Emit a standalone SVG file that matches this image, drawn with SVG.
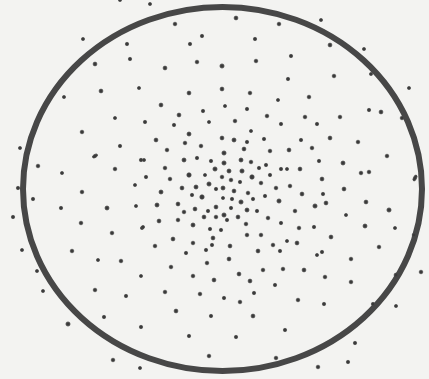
<svg xmlns="http://www.w3.org/2000/svg" width="429" height="379" viewBox="0 0 429 379">
<style>
.d{fill:#3a3a3a;stroke:#4a4a4a;stroke-width:0.7}
</style>
<rect width="429" height="379" fill="#f3f3f1"/>
<ellipse id="ring" cx="222.5" cy="189" rx="199.5" ry="182" fill="none" stroke="#474747" stroke-width="6"/>
<g id="dots" class="d">
<circle cx="83" cy="39" r="1.6"/><circle cx="127" cy="44" r="1.7"/><circle cx="130" cy="59" r="1.7"/><circle cx="95" cy="64" r="1.9"/><circle cx="101" cy="91" r="1.9"/><circle cx="139" cy="88" r="1.6"/><circle cx="64" cy="97" r="1.6"/><circle cx="115" cy="118" r="1.6"/><circle cx="120" cy="0" r="1.6"/>
<circle cx="150" cy="4" r="1.6"/><circle cx="175" cy="24" r="1.8"/><circle cx="236" cy="18" r="1.9"/><circle cx="279" cy="24" r="1.8"/><circle cx="202" cy="36" r="1.7"/><circle cx="190" cy="44" r="1.7"/><circle cx="255" cy="39" r="1.7"/><circle cx="197" cy="62" r="1.8"/><circle cx="222" cy="66" r="2.1"/><circle cx="256" cy="61" r="1.8"/><circle cx="165" cy="68" r="1.9"/><circle cx="222" cy="89" r="1.9"/><circle cx="189" cy="93" r="1.9"/><circle cx="250" cy="93" r="1.8"/><circle cx="278" cy="100" r="1.6"/><circle cx="161" cy="105" r="1.9"/><circle cx="203" cy="111" r="1.7"/><circle cx="225" cy="106" r="1.6"/><circle cx="247" cy="109" r="1.7"/><circle cx="179" cy="115" r="1.9"/><circle cx="267" cy="116" r="1.8"/><circle cx="145" cy="122" r="1.7"/><circle cx="174" cy="125" r="1.7"/><circle cx="209" cy="122" r="1.6"/><circle cx="235" cy="121" r="1.8"/><circle cx="281" cy="124" r="1.7"/>
<circle cx="321" cy="20" r="1.6"/><circle cx="330" cy="45" r="1.9"/><circle cx="364" cy="49" r="1.6"/><circle cx="291" cy="56" r="1.7"/><circle cx="288" cy="79" r="1.7"/><circle cx="334" cy="76" r="1.8"/><circle cx="371" cy="74" r="1.6"/><circle cx="409" cy="88" r="1.6"/><circle cx="309" cy="97" r="1.8"/><circle cx="369" cy="110" r="1.7"/><circle cx="381" cy="112" r="1.9"/><circle cx="305" cy="117" r="1.8"/><circle cx="340" cy="117" r="1.8"/><circle cx="402" cy="118" r="1.8"/><circle cx="317" cy="124" r="1.7"/>
<circle cx="82" cy="132" r="1.8"/><circle cx="20" cy="148" r="1.6"/><circle cx="120" cy="146" r="1.7"/><ellipse cx="95" cy="156" rx="2.8" ry="1.6" transform="rotate(-30 95 156)"/><circle cx="141" cy="160" r="1.7"/><circle cx="38" cy="166" r="1.8"/><circle cx="115" cy="169" r="1.8"/><circle cx="62" cy="173" r="1.6"/><circle cx="18" cy="188" r="1.7"/><circle cx="135" cy="185" r="1.6"/><circle cx="82" cy="192" r="1.8"/><circle cx="33" cy="199" r="1.7"/><circle cx="61" cy="208" r="1.7"/><circle cx="107" cy="208" r="2"/><circle cx="136" cy="206" r="1.6"/><circle cx="13" cy="217" r="1.7"/><circle cx="81" cy="223" r="1.8"/><circle cx="142" cy="228" r="1.6"/><circle cx="112" cy="233" r="1.8"/><circle cx="22" cy="250" r="1.6"/><circle cx="72" cy="251" r="1.8"/>
<circle cx="189" cy="134" r="2"/><circle cx="222" cy="138" r="1.9"/><circle cx="251" cy="131" r="1.6"/><circle cx="156" cy="140" r="1.9"/><circle cx="185" cy="143" r="1.8"/><circle cx="234" cy="140" r="2"/><circle cx="247" cy="142" r="1.7"/><circle cx="264" cy="139" r="1.7"/><circle cx="201" cy="146" r="1.8"/><circle cx="167" cy="150" r="1.8"/><circle cx="244" cy="149" r="1.9"/><circle cx="224" cy="153" r="2.1"/><circle cx="270" cy="151" r="1.8"/><circle cx="197" cy="158" r="1.7"/><circle cx="184" cy="160" r="2"/><circle cx="211" cy="161" r="1.7"/><circle cx="241" cy="160" r="2"/><circle cx="224" cy="163" r="2.1"/><circle cx="251" cy="162" r="1.8"/><circle cx="266" cy="165" r="1.7"/><circle cx="215" cy="169" r="2.1"/><circle cx="229" cy="171" r="2"/><circle cx="242" cy="171" r="2.1"/><circle cx="259" cy="168" r="1.7"/><circle cx="281" cy="169" r="1.7"/><circle cx="165" cy="168" r="1.8"/><circle cx="144" cy="160" r="1.6"/><circle cx="189" cy="175" r="2.2"/><circle cx="205" cy="175" r="1.6"/><circle cx="222" cy="177" r="1.8"/><circle cx="252" cy="177" r="2.2"/><circle cx="270" cy="175" r="1.7"/><circle cx="146" cy="177" r="1.7"/><circle cx="170" cy="179" r="1.8"/><circle cx="231" cy="180" r="1.8"/><circle cx="240" cy="182" r="1.7"/><circle cx="261" cy="183" r="1.8"/><circle cx="209" cy="184" r="2.1"/><circle cx="182" cy="188" r="1.9"/><circle cx="196" cy="187" r="2"/><circle cx="216" cy="189" r="1.7"/><circle cx="223" cy="188" r="2"/><circle cx="234" cy="191" r="1.9"/><circle cx="248" cy="193" r="1.8"/><circle cx="276" cy="188" r="1.8"/><circle cx="161" cy="192" r="2"/><circle cx="192" cy="195" r="1.7"/><circle cx="202" cy="197" r="2.2"/><circle cx="223" cy="198" r="1.6"/><circle cx="232" cy="199" r="1.7"/><circle cx="241" cy="202" r="2.1"/><circle cx="253" cy="199" r="1.7"/><circle cx="265" cy="196" r="1.7"/><circle cx="279" cy="201" r="2.1"/><circle cx="157" cy="205" r="2"/><circle cx="178" cy="204" r="1.9"/><circle cx="216" cy="207" r="1.9"/><circle cx="231" cy="208" r="1.7"/><circle cx="247" cy="210" r="2"/><circle cx="195" cy="209" r="1.9"/><circle cx="208" cy="211" r="1.7"/><circle cx="257" cy="211" r="1.7"/><circle cx="184" cy="212" r="1.8"/><circle cx="224" cy="215" r="2.1"/><circle cx="204" cy="217" r="1.9"/><circle cx="216" cy="217" r="1.8"/><circle cx="238" cy="217" r="1.9"/><circle cx="268" cy="218" r="1.8"/><circle cx="159" cy="221" r="1.9"/><circle cx="178" cy="220" r="1.8"/><circle cx="227" cy="220" r="1.7"/><circle cx="193" cy="225" r="2"/><circle cx="246" cy="224" r="1.8"/><circle cx="143" cy="227" r="1.6"/><circle cx="210" cy="229" r="1.7"/><circle cx="221" cy="230" r="1.7"/><circle cx="281" cy="223" r="1.7"/><circle cx="261" cy="235" r="1.8"/><circle cx="247" cy="235" r="1.8"/><circle cx="173" cy="239" r="1.9"/><circle cx="213" cy="238" r="1.9"/><circle cx="155" cy="246" r="1.8"/><circle cx="193" cy="243" r="1.8"/><circle cx="212" cy="245" r="1.7"/><circle cx="230" cy="246" r="1.9"/><circle cx="273" cy="245" r="1.8"/><circle cx="186" cy="253" r="1.7"/><circle cx="206" cy="250" r="1.7"/><circle cx="258" cy="251" r="1.9"/><circle cx="280" cy="251" r="1.7"/>
<circle cx="301" cy="140" r="1.7"/><circle cx="330" cy="138" r="1.9"/><circle cx="358" cy="142" r="1.8"/><circle cx="289" cy="150" r="1.9"/><circle cx="312" cy="148" r="1.8"/><circle cx="319" cy="161" r="1.7"/><circle cx="343" cy="163" r="2"/><circle cx="387" cy="156" r="1.8"/><circle cx="287" cy="169" r="1.6"/><circle cx="300" cy="169" r="1.9"/><circle cx="361" cy="173" r="1.8"/><circle cx="369" cy="172" r="1.8"/><circle cx="322" cy="179" r="1.9"/><ellipse cx="415" cy="178" rx="1.6" ry="3.2" transform="rotate(25 415 178)"/><circle cx="290" cy="186" r="1.8"/><circle cx="344" cy="189" r="1.9"/><circle cx="302" cy="194" r="1.9"/><circle cx="323" cy="194" r="1.7"/><circle cx="315" cy="206" r="2.1"/><circle cx="326" cy="203" r="1.9"/><circle cx="366" cy="202" r="1.9"/><circle cx="389" cy="210" r="2.1"/><circle cx="295" cy="211" r="1.8"/><circle cx="346" cy="215" r="1.6"/><circle cx="299" cy="228" r="1.8"/><circle cx="314" cy="227" r="1.7"/><circle cx="365" cy="226" r="2"/><circle cx="395" cy="228" r="1.6"/><circle cx="331" cy="237" r="1.9"/><circle cx="414" cy="235" r="1.8"/><circle cx="287" cy="241" r="1.6"/><circle cx="297" cy="243" r="1.9"/><circle cx="379" cy="247" r="1.8"/><circle cx="322" cy="252" r="1.7"/>
<circle cx="98" cy="260" r="1.6"/><circle cx="121" cy="261" r="1.8"/><circle cx="37" cy="271" r="1.6"/><circle cx="141" cy="276" r="1.6"/><circle cx="43" cy="291" r="1.6"/><circle cx="95" cy="290" r="1.8"/><circle cx="126" cy="296" r="1.7"/><circle cx="104" cy="317" r="1.7"/><circle cx="68" cy="324" r="2.1"/><circle cx="141" cy="327" r="1.7"/><circle cx="113" cy="360" r="1.8"/><circle cx="140" cy="368" r="1.6"/>
<circle cx="207" cy="263" r="1.8"/><circle cx="229" cy="259" r="1.9"/><circle cx="171" cy="267" r="1.8"/><circle cx="263" cy="270" r="1.8"/><circle cx="283" cy="269" r="1.8"/><circle cx="193" cy="276" r="1.8"/><circle cx="239" cy="274" r="1.9"/><circle cx="214" cy="280" r="1.9"/><circle cx="250" cy="281" r="1.9"/><circle cx="275" cy="285" r="1.7"/><circle cx="165" cy="292" r="1.8"/><circle cx="200" cy="294" r="1.8"/><circle cx="224" cy="298" r="1.7"/><circle cx="240" cy="302" r="1.8"/><circle cx="254" cy="293" r="1.7"/><circle cx="176" cy="311" r="1.9"/><circle cx="211" cy="316" r="1.7"/><circle cx="253" cy="316" r="1.9"/><circle cx="189" cy="336" r="1.7"/><circle cx="236" cy="337" r="1.7"/><circle cx="285" cy="330" r="1.7"/><circle cx="209" cy="356" r="1.8"/><circle cx="276" cy="358" r="1.8"/>
<circle cx="317" cy="255" r="1.6"/><circle cx="351" cy="259" r="1.8"/><circle cx="304" cy="270" r="1.9"/><circle cx="325" cy="277" r="1.8"/><circle cx="351" cy="282" r="1.8"/><circle cx="396" cy="275" r="1.9"/><circle cx="421" cy="272" r="1.8"/><circle cx="298" cy="300" r="1.8"/><circle cx="324" cy="304" r="1.7"/><circle cx="373" cy="304" r="1.7"/><circle cx="396" cy="306" r="1.6"/><circle cx="355" cy="343" r="1.7"/><circle cx="348" cy="362" r="1.7"/><circle cx="318" cy="367" r="1.8"/>
</g>
</svg>
